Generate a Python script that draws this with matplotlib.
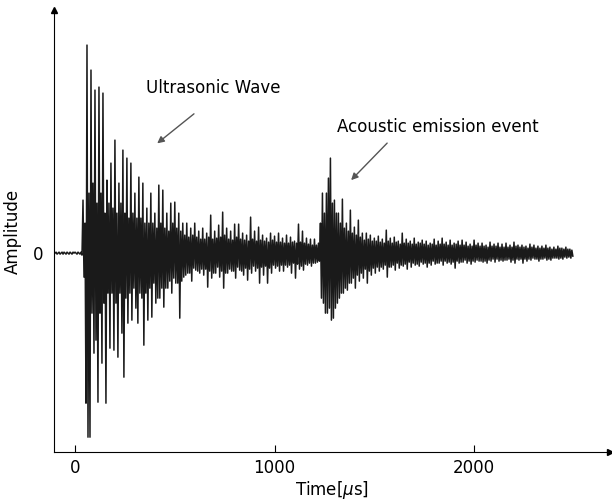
import matplotlib.pyplot as plt
import numpy as np

t_start = -100   # first sample time [us]
t_step = 5       # sample spacing [us]

pre_trigger = [
    0, 1, -1, 0, 1, -1, 0, 1, -1, 1, 0, -1, 1, 0, -1, 1, 0, -1, 1, 0,
    1, 0, -1, 1, 0, -1, 1, -2,
]

ultrasonic = [
    53, -24, 30, -150, 208, -184, 60, -184, 183, -60, 70, -100, 163, -87, 50, -149, 166, -60, 60, -110,
    160, -50, 40, -150, 73, -40, 50, -95, 90, -40, 45, -97, 113, -50, 40, -104, 70, -40, 50, -80,
    103, -124, 40, -45, 95, -70, 35, -40, 90, -67, 40, -35, 60, -55, 35, -70, 76, -40, 35, -45,
    70, -92, 30, -40, 45, -67, 30, -35, 60, -64, 30, -30, 40, -50, 25, -45, 68, -45, 30, -35,
    63, -54, 25, -35, 40, -35, 22, -28, 50, -40, 30, -25, 51, -30, 25, -30, 40, -65, 22, -28,
    30, -24, 18, -22, 30, -20, 16, -20, 25, -28, 18, -15, 30, -17, 16, -18, 22, -20, 14, -16,
    25, -22, 14, -16, 20, -34, 16, -18, 38, -25, 14, -20, 22, -20, 15, -14, 28, -24, 16, -18,
    41, -35, 18, -20, 25, -20, 14, -16, 22, -18, 13, -18, 29, -25, 16, -14, 29, -17, 14, -18,
    20, -22, 13, -15, 18, -27, 12, -16, 36, -20, 14, -13, 22, -18, 12, -15, 26, -30, 13, -14,
    18, -22, 12, -13, 15, -30, 11, -15, 20, -20, 13, -12, 17, -15, 11, -13, 20, -18, 11, -12,
    15, -18, 10, -12, 18, -14, 10, -12, 16, -20, 11, -10, 12, -25, 10, -11, 29, -16, 11, -13,
    22, -17, 10, -11, 15, -12, 9, -10, 14, -13, 8, -10, 14, -10, 8, -9, 10, -8, 30, -45,
]

acoustic_emission = [
    60, -50, 40, -60, 60, -60, 75, -55, 95, -67, 50, -65, 53, -55, 40, -50, 40, -45, 30, -40,
    54, -40, 25, -35, 30, -37, 22, -30, 43, -30, 20, -25, 26, -35, 18, -22, 33, -28, 16, -20,
    20, -25, 13, -16, 20, -30, 14, -18, 18, -22, 12, -15, 15, -20, 12, -14, 17, -18, 11, -14,
    14, -16, 10, -12, 23, -24, 12, -14, 15, -14, 10, -12, 16, -17, 11, -10, 12, -15, 9, -12,
    20, -13, 10, -11, 14, -16, 10, -9, 12, -14, 9, -10, 15, -12, 9, -11, 11, -13, 10, -9,
    13, -11, 9, -10, 12, -14, 8, -10, 10, -12, 9, -8, 14, -11, 8, -10, 12, -10, 9, -8,
    15, -12, 9, -8, 11, -10, 8, -9, 13, -11, 8, -9, 10, -15, 9, -8, 12, -10, 8, -9,
    13, -9, 8, -7, 11, -10, 7, -8, 9, -11, 7, -8, 13, -9, 8, -7, 10, -8, 7, -8,
    10, -9, 7, -8, 8, -10, 6, -7, 11, -8, 7, -6, 9, -9, 7, -6, 10, -8, 6, -7,
    9, -8, 6, -7, 10, -7, 6, -6, 8, -9, 6, -7, 11, -10, 7, -6, 8, -7, 6, -6,
    8, -10, 6, -6, 7, -8, 5, -6, 9, -7, 6, -5, 8, -6, 5, -6, 7, -8, 5, -6,
    7, -6, 5, -5, 8, -7, 5, -6, 6, -7, 4, -5, 6, -5, 4, -5, 7, -6, 5, -5,
    5, -6, 4, -4, 6, -5, 4, -4, 4, -5, 3, -3,
]

x_ticks = [0, 1000, 2000]
y_ticks = [0]

amplitude = pre_trigger + ultrasonic + acoustic_emission
time = t_start + t_step * np.arange(len(amplitude))

fig = plt.figure(figsize=(6.12, 5.03), dpi=100)
ax = fig.add_axes([0.089, 0.101, 0.908, 0.879])

ax.plot(time, amplitude, color='#1a1a1a', linewidth=1.1)

ax.set_xlim(-103, 2682)
ax.set_ylim(-199, 243)

# axes with arrow heads, no box
ax.spines['top'].set_visible(False)
ax.spines['right'].set_visible(False)
ax.plot(1, 0, '>', color='black', markersize=5, transform=ax.transAxes, clip_on=False)
ax.plot(0, 1, '^', color='black', markersize=5, transform=ax.transAxes, clip_on=False)

ax.set_xticks(x_ticks)
ax.set_yticks(y_ticks)
ax.tick_params(axis='x', direction='in', length=5, labelsize=12, pad=5)
ax.tick_params(axis='y', length=0, labelsize=12, pad=8)

ax.set_xlabel('Time[$\\mu$s]', fontsize=12, labelpad=1)
ax.set_ylabel('Amplitude', fontsize=12, labelpad=8)

# annotations
arrow_style = dict(arrowstyle='-|>', color='#555555', linewidth=1.0, mutation_scale=10)
ax.annotate('', xy=(401, 108), xytext=(607, 141), arrowprops=arrow_style)
ax.text(692, 165, 'Ultrasonic Wave', fontsize=12, ha='center', va='center')
ax.annotate('', xy=(1374, 71), xytext=(1574, 112), arrowprops=arrow_style)
ax.text(1820, 126, 'Acoustic emission event', fontsize=12, ha='center', va='center')

plt.savefig('out.png', dpi=100)
